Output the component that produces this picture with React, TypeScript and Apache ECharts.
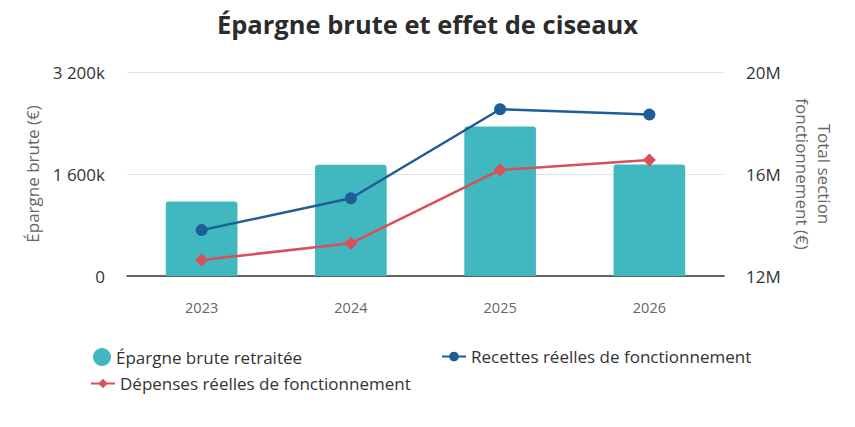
import React, { useEffect, useRef } from "react";
import * as echarts from "echarts";

const years = ["2023", "2024", "2025", "2026"];
// Épargne brute retraitée, in k€
const epargneBrute = [1170, 1745, 2345, 1750];
// Recettes / dépenses réelles de fonctionnement, in M€
const recettes = [13.8, 15.05, 18.54, 18.33];
const depenses = [12.63, 13.28, 16.16, 16.55];

const leftTicks = [0, 1600, 3200];
const rightTicks = [12, 16, 20];

const FONT = "'Open Sans', 'Noto Sans', sans-serif";
const TEAL = "#41b8c0";
const BLUE = "#1e5d98";
const RED = "#d94f5a";

const fmtK = (v: number) =>
  v === 0 ? "0" : String(v).replace(/\B(?=(\d{3})+(?!\d))/g, " ") + "k";

export default function App() {
  const ref = useRef<HTMLDivElement>(null);

  useEffect(() => {
    document.body.style.margin = "0";
    if (!ref.current) return;
    const chart = echarts.init(ref.current, undefined, { renderer: "svg" });
    const legendText = { fontFamily: FONT, fontSize: 17, color: "#333" };
    chart.setOption({
      animation: false,
      backgroundColor: "#fff",
      textStyle: { fontFamily: FONT },
      title: {
        text: "Épargne brute et effet de ciseaux",
        left: "center",
        top: 6,
        textStyle: { fontFamily: FONT, fontSize: 25.5, fontWeight: "bold", color: "#2b2b2b" },
      },
      legend: [
        {
          data: [{ name: "Épargne brute retraitée", icon: "circle" }],
          left: 88,
          top: 343,
          itemWidth: 18,
          itemHeight: 18,
          textStyle: legendText,
        },
        {
          data: ["Recettes réelles de fonctionnement"],
          left: 436,
          top: 343,
          itemWidth: 24,
          itemHeight: 12,
          textStyle: legendText,
        },
        {
          data: ["Dépenses réelles de fonctionnement"],
          left: 85,
          top: 370,
          itemWidth: 24,
          itemHeight: 12,
          textStyle: legendText,
        },
      ],
      grid: { left: 127, right: 131, top: 72, bottom: 151, containLabel: false },
      xAxis: {
        type: "category",
        data: years,
        axisTick: { show: false },
        axisLine: { lineStyle: { color: "#333", width: 1.5 } },
        axisLabel: { color: "#666", fontSize: 14.5, margin: 24, fontFamily: FONT },
      },
      yAxis: [
        {
          type: "value",
          min: leftTicks[0],
          max: leftTicks[leftTicks.length - 1],
          interval: 1600,
          name: "Épargne brute (€)",
          nameLocation: "middle",
          nameGap: 86,
          nameTextStyle: { color: "#666", fontSize: 17, fontFamily: FONT },
          axisLine: { show: false },
          axisTick: { show: false },
          axisLabel: { color: "#333", fontSize: 17, margin: 22, formatter: fmtK, fontFamily: FONT },
          splitLine: { lineStyle: { color: "#e3e3e3" } },
        },
        {
          type: "value",
          min: rightTicks[0],
          max: rightTicks[rightTicks.length - 1],
          interval: 4,
          name: "Total section\nfonctionnement (€)",
          nameLocation: "middle",
          nameGap: 67,
          nameRotate: -90,
          nameTextStyle: { color: "#666", fontSize: 17, lineHeight: 22, fontFamily: FONT },
          axisLine: { show: false },
          axisTick: { show: false },
          axisLabel: { color: "#333", fontSize: 17, margin: 22, formatter: (v: number) => v + "M", fontFamily: FONT },
          splitLine: { show: false },
        },
      ],
      series: [
        {
          name: "Épargne brute retraitée",
          type: "bar",
          yAxisIndex: 0,
          data: epargneBrute,
          barWidth: "48%",
          itemStyle: { color: TEAL, borderRadius: [3, 3, 0, 0] },
          z: 1,
        },
        {
          name: "Recettes réelles de fonctionnement",
          type: "line",
          yAxisIndex: 1,
          data: recettes,
          symbol: "circle",
          symbolSize: 12,
          lineStyle: { color: BLUE, width: 2.5 },
          itemStyle: { color: BLUE },
          z: 3,
        },
        {
          name: "Dépenses réelles de fonctionnement",
          type: "line",
          yAxisIndex: 1,
          data: depenses,
          symbol: "diamond",
          symbolSize: 13,
          lineStyle: { color: RED, width: 2.5 },
          itemStyle: { color: RED },
          z: 2,
        },
      ],
    });
    return () => chart.dispose();
  }, []);

  return <div ref={ref} style={{ width: 855, height: 427 }} />;
}
